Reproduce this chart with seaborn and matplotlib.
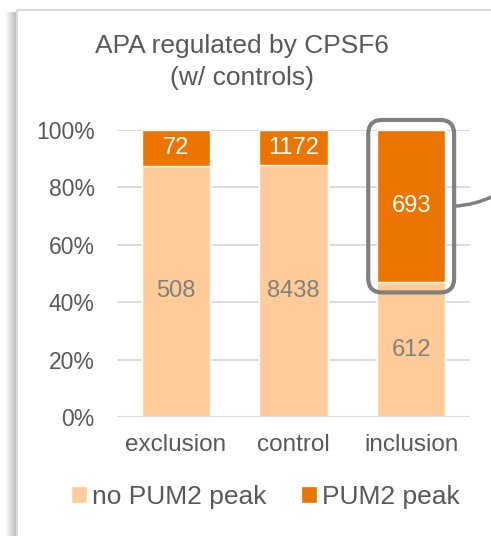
"""
APA regulated by CPSF6 (w/ controls) - stacked 100% bar chart.
"""

import matplotlib

matplotlib.use("Agg")

import matplotlib.pyplot as plt
import pandas as pd
import seaborn as sns
from matplotlib.patches import FancyBboxPatch, Rectangle


# ==========================================================
# Data
# ==========================================================

categories = ["exclusion", "control", "inclusion"]
no_peak_counts = [508, 8438, 612]
peak_counts = [72, 1172, 693]
series_names = ["no PUM2 peak", "PUM2 peak"]
y_ticks = [0, 0.2, 0.4, 0.6, 0.8, 1.0]
y_tick_labels = ["0%", "20%", "40%", "60%", "80%", "100%"]

LIGHT = "#FFCC99"
DARK = "#EB7500"
TEXT = "#595959"
GRID = "#D9D9D9"


# ==========================================================
# Figure
# ==========================================================

sns.set_theme(style="white")
plt.rcParams["font.family"] = ["Liberation Sans", "DejaVu Sans"]

fig = plt.figure(figsize=(4.91, 5.36), dpi=100)

# panel border with left shadow
for i in range(12):
    fig.patches.append(
        Rectangle(
            ((5 + i) / 491, -0.1),
            1 / 491,
            (536 - 12 + 0.1 * 536) / 536,
            transform=fig.transFigure,
            color="#7f7f7f",
            alpha=0.03 + 0.045 * i,
            lw=0,
            zorder=-3,
        )
    )
fig.patches.append(
    Rectangle(
        (17 / 491, -0.1),
        1.0,
        1.1 - 9.5 / 536,
        transform=fig.transFigure,
        facecolor="white",
        edgecolor=GRID,
        lw=1.5,
        zorder=-2,
    )
)

ax = fig.add_axes([117 / 491, 119 / 536, 353 / 491, 287 / 536])
ax.set_facecolor("none")

df = pd.DataFrame(
    {
        "category": categories,
        "no_peak": no_peak_counts,
        "peak": peak_counts,
    }
)
df["total"] = df["no_peak"] + df["peak"]
df["no_peak_frac"] = df["no_peak"] / df["total"]
df["peak_frac"] = df["peak"] / df["total"]
df["all"] = 1.0

# full bars (dark) with light bars on top covering the lower part
sns.barplot(
    data=df, x="category", y="all", color=DARK, width=0.58,
    saturation=1, ax=ax, zorder=2, label=series_names[1],
)
sns.barplot(
    data=df, x="category", y="no_peak_frac", color=LIGHT, width=0.58,
    saturation=1, ax=ax, zorder=3, label=series_names[0],
)
handles, labels = ax.get_legend_handles_labels()
if ax.get_legend() is not None:
    ax.get_legend().remove()

for i, row in df.iterrows():
    ax.text(
        i, row["no_peak_frac"] / 2, f"{row['no_peak']}",
        ha="center", va="center", fontsize=17, color="#7F7F7F", zorder=5,
    )
    ax.text(
        i, row["no_peak_frac"] + row["peak_frac"] / 2, f"{row['peak']}",
        ha="center", va="center", fontsize=17, color="white", zorder=5,
    )

ax.set_xlim(-0.5, 2.5)
ax.set_ylim(0, 1)
ax.set_yticks(y_ticks)
ax.set_yticklabels(y_tick_labels)
ax.yaxis.grid(True, color=GRID, lw=1.3)
ax.set_axisbelow(True)
for spine in ax.spines.values():
    spine.set_visible(False)
ax.axhline(0, color=GRID, lw=1.5, zorder=4)

ax.set_xlabel("")
ax.set_ylabel("")
ax.tick_params(axis="x", labelsize=17.5, colors=TEXT, pad=12, length=0)
ax.tick_params(axis="y", labelsize=16.5, colors=TEXT, pad=16, length=0)

fig.text(
    242 / 491, 1 - 62 / 536,
    "APA regulated by CPSF6\n(w/ controls)",
    ha="center", va="center", fontsize=19, color=TEXT, linespacing=1.4,
)

# highlight box around the inclusion PUM2 segment
pad_x = 0.075
pad_y = 0.035
bar_half = 0.29
x0 = 2 - bar_half - pad_x
y0 = df.loc[2, "no_peak_frac"] - pad_y
box_w = 2 * (bar_half + pad_x)
box_h = 1.0 - df.loc[2, "no_peak_frac"] + 2 * pad_y
aspect = (1 / 287) / (1 / 118.5)
box = FancyBboxPatch(
    (x0, y0), box_w, box_h,
    boxstyle="round,pad=0,rounding_size=0.12",
    mutation_aspect=aspect,
    facecolor="none", edgecolor="#808080", lw=3,
    zorder=6, clip_on=False,
)
ax.add_patch(box)

mid_y = df.loc[2, "no_peak_frac"] + df.loc[2, "peak_frac"] / 2
ax.annotate(
    "", xy=(2.70, 0.77), xytext=(x0 + box_w, mid_y),
    arrowprops=dict(
        arrowstyle="-", color="#808080", lw=2.5,
        connectionstyle="arc3,rad=0.1", shrinkA=0, shrinkB=0,
    ),
    annotation_clip=False, zorder=6,
)

order = [labels.index(name) for name in series_names]
fig.legend(
    [handles[k] for k in order], [labels[k] for k in order],
    loc="center", bbox_to_anchor=(0.54, 39 / 536), ncol=2, frameon=False,
    fontsize=19, labelcolor=TEXT, handlelength=0.6, handleheight=0.6,
    handletextpad=0.2, columnspacing=1.3,
)

fig.savefig("out.png", dpi=100)
